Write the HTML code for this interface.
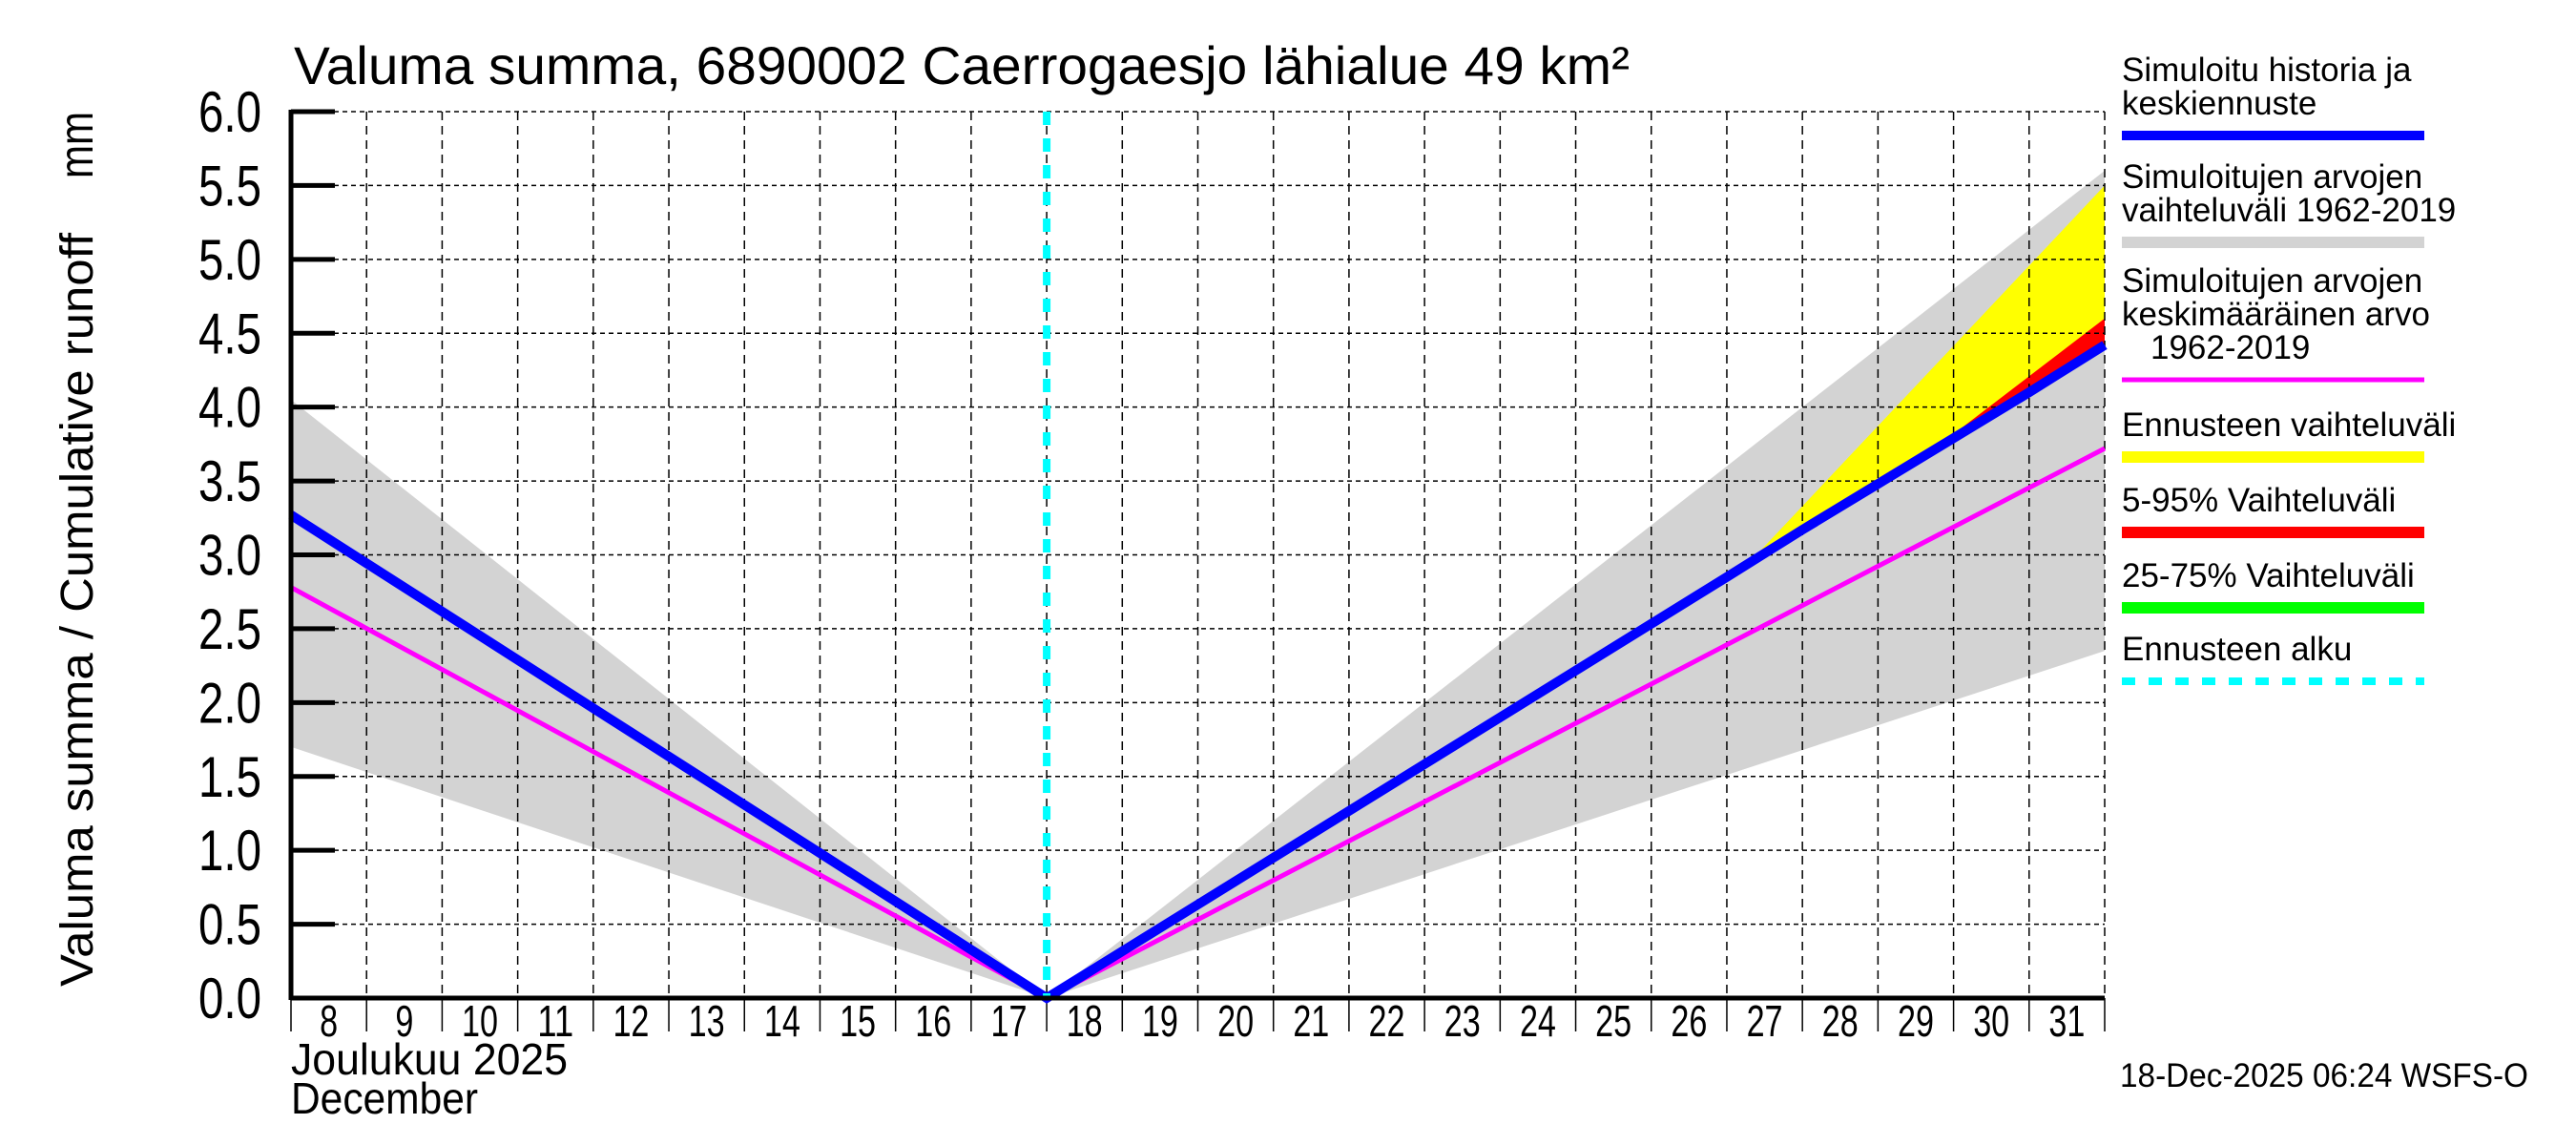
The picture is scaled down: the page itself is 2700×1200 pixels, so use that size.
<!DOCTYPE html>
<html><head><meta charset="utf-8">
<style>
html,body{margin:0;padding:0;background:#fff;}
svg{display:block;font-family:"Liberation Sans",sans-serif;}
</style></head>
<body>
<svg id="chart" width="2700" height="1200" viewBox="0 0 2700 1200" xmlns="http://www.w3.org/2000/svg">
<rect width="2700" height="1200" fill="#fff"/>
<g id="plot"></g>
<text x="308" y="88" font-size="56" textLength="1400" lengthAdjust="spacingAndGlyphs">Valuma summa, 6890002 Caerrogaesjo lähialue 49 km²</text>
<text transform="translate(97,1034) rotate(-90)" text-anchor="start" font-size="48" textLength="790" lengthAdjust="spacingAndGlyphs">Valuma summa / Cumulative runoff</text>
<text transform="translate(97,117) rotate(-90)" text-anchor="end" font-size="50" textLength="70" lengthAdjust="spacingAndGlyphs">mm</text>
<text x="305" y="1126" font-size="46" textLength="290" lengthAdjust="spacingAndGlyphs">Joulukuu  2025</text>
<text x="305" y="1167" font-size="46" textLength="196" lengthAdjust="spacingAndGlyphs">December</text>
<text x="2222" y="1139" font-size="35" textLength="428" lengthAdjust="spacingAndGlyphs">18-Dec-2025 06:24 WSFS-O</text>
<g id="legend"></g>
</svg>
<script>
// ---- data ----
const days = [0, 10, 19, 20, 21, 22, 23, 24];            // days since Dec 8
const blueVals = [3.27, 0, 2.85, 3.17, 3.48, 3.79, 4.10, 4.42];
const magDays = [0, 10, 24];
const magVals = [2.78, 0, 3.72];
const grayDays = [0, 10, 24];
const grayUpper = [4.05, 0, 5.6];
const grayLower = [1.7, 0, 2.35];
const yellowDays = [19.3, 24];
const yellowUpper = [2.95, 5.5];
const redDays = [21.7, 24];
const redUpper = [3.7, 4.6];
const forecastStart = 10;
const yTicks = ["0.0","0.5","1.0","1.5","2.0","2.5","3.0","3.5","4.0","4.5","5.0","5.5","6.0"];
const dayLabels = ["8","9","10","11","12","13","14","15","16","17","18","19","20","21","22","23","24","25","26","27","28","29","30","31"];

// ---- axes ----
const X0=305, X1=2206, Y0=1046, Y1=117, T0=0, T1=24, V0=0, V1=6;
const xs = t => X0 + (t-T0)/(T1-T0)*(X1-X0);
const ys = v => Y0 - (v-V0)/(V1-V0)*(Y0-Y1);
const NS="http://www.w3.org/2000/svg";
const plot=document.getElementById('plot');
function mk(tag, attrs, parent){const e=document.createElementNS(NS,tag);for(const k in attrs)e.setAttribute(k,attrs[k]);(parent||plot).appendChild(e);return e;}
function interp(xa,ya,t){for(let i=0;i<xa.length-1;i++){if(t>=xa[i]&&t<=xa[i+1]){return ya[i]+(ya[i+1]-ya[i])*(t-xa[i])/(xa[i+1]-xa[i]);}}return ya[ya.length-1];}

// gray band
let pts=grayDays.map((d,i)=>xs(d)+','+ys(grayUpper[i]));
pts=pts.concat(grayDays.slice().reverse().map((d,i)=>xs(d)+','+ys(grayLower[grayLower.length-1-i])));
let e=mk('polygon',{points:pts.join(' '),fill:'#d3d3d3'});



// yellow band
pts=yellowDays.map((d,i)=>xs(d)+','+ys(yellowUpper[i]));
pts=pts.concat(yellowDays.slice().reverse().map(d=>xs(d)+','+ys(interp(days,blueVals,d))));
e=mk('polygon',{points:pts.join(' '),fill:'#ffff00'});



// red band
pts=redDays.map((d,i)=>xs(d)+','+ys(redUpper[i]));
pts=pts.concat(redDays.slice().reverse().map(d=>xs(d)+','+ys(interp(days,blueVals,d))));
e=mk('polygon',{points:pts.join(' '),fill:'#ff0000'});



// grid
for(let i=0;i<yTicks.length;i++){
  const y=ys(parseFloat(yTicks[i]));
  if(i>0){e=mk('line',{x1:X0,x2:X1,y1:y,y2:y,stroke:'#000','stroke-width':1.5,'stroke-dasharray':'5,4'});
  
  }
  e=mk('line',{x1:X0,x2:X0+46,y1:y,y2:y,stroke:'#000','stroke-width':5});
  
  
  e=mk('text',{x:274,y:y+21,'text-anchor':'end','font-size':60,textLength:66,lengthAdjust:'spacingAndGlyphs'});
  e.textContent=yTicks[i];
  
  
}
for(let i=0;i<=dayLabels.length;i++){
  const x=xs(i);
  if(i>0){e=mk('line',{x1:x,x2:x,y1:Y1,y2:Y0,stroke:'#000','stroke-width':1.5,'stroke-dasharray':'9,6'});
  
  }
  e=mk('line',{x1:x,x2:x,y1:Y0,y2:Y0+35,stroke:'#000','stroke-width':1.5});
  
  
  if(i<dayLabels.length){
    e=mk('text',{x:x+(X1-X0)/48,y:1086,'text-anchor':'middle','font-size':46,textLength:dayLabels[i].length*19,lengthAdjust:'spacingAndGlyphs'});
    e.textContent=dayLabels[i];
    
    
  }
}

// magenta
e=mk('polyline',{points:magDays.map((d,i)=>xs(d)+','+ys(magVals[i])).join(' '),fill:'none',stroke:'#ff00ff','stroke-width':5});


// blue
e=mk('polyline',{points:days.map((d,i)=>xs(d)+','+ys(blueVals[i])).join(' '),fill:'none',stroke:'#0000ff','stroke-width':10});


// forecast start
e=mk('line',{x1:xs(forecastStart),x2:xs(forecastStart),y1:Y1,y2:Y0,stroke:'#00ffff','stroke-width':8,'stroke-dasharray':'14,14'});



// axes
e=mk('line',{x1:X0,x2:X0,y1:Y1-2,y2:Y0+2,stroke:'#000','stroke-width':5});


e=mk('line',{x1:X0,x2:X1,y1:Y0,y2:Y0,stroke:'#000','stroke-width':5});



// legend
const lg=document.getElementById('legend');
const legendLabels=[["Simuloitu historia ja","keskiennuste"],["Simuloitujen arvojen","vaihteluväli 1962-2019"],["Simuloitujen arvojen","keskimääräinen arvo","1962-2019"],["Ennusteen vaihteluväli"],["5-95% Vaihteluväli"],["25-75% Vaihteluväli"],["Ennusteen alku"]];
const legendColors=["#0000ff","#d3d3d3","#ff00ff","#ffff00","#ff0000","#00ff00","#00ffff"];
const legendLineY=[142,254,398,479,558,637,714];
const legendW=[10,12,5,12,12,12,8];
const names=["legend-simulated","legend-historical-range","legend-historical-mean","legend-forecast-range","legend-5-95","legend-25-75","legend-forecast-start"];
for(let i=0;i<legendLabels.length;i++){
  const g=mk('g',{},lg);
  
  
  const lines=legendLabels[i];
  lines.forEach((s,j)=>{
    const indent=(i===2&&j===2)?30:0;
    const t=mk('text',{x:2224+indent,y:legendLineY[i]-22-(lines.length-1-j)*35,'font-size':35},g);
    t.textContent=s;
    
    
  });
  const a={x1:2224,x2:2541,y1:legendLineY[i],y2:legendLineY[i],stroke:legendColors[i],'stroke-width':legendW[i]};
  if(i===6)a['stroke-dasharray']='14,14';
  const l=mk('line',a,g);
  
  
}
</script>
</body></html>
